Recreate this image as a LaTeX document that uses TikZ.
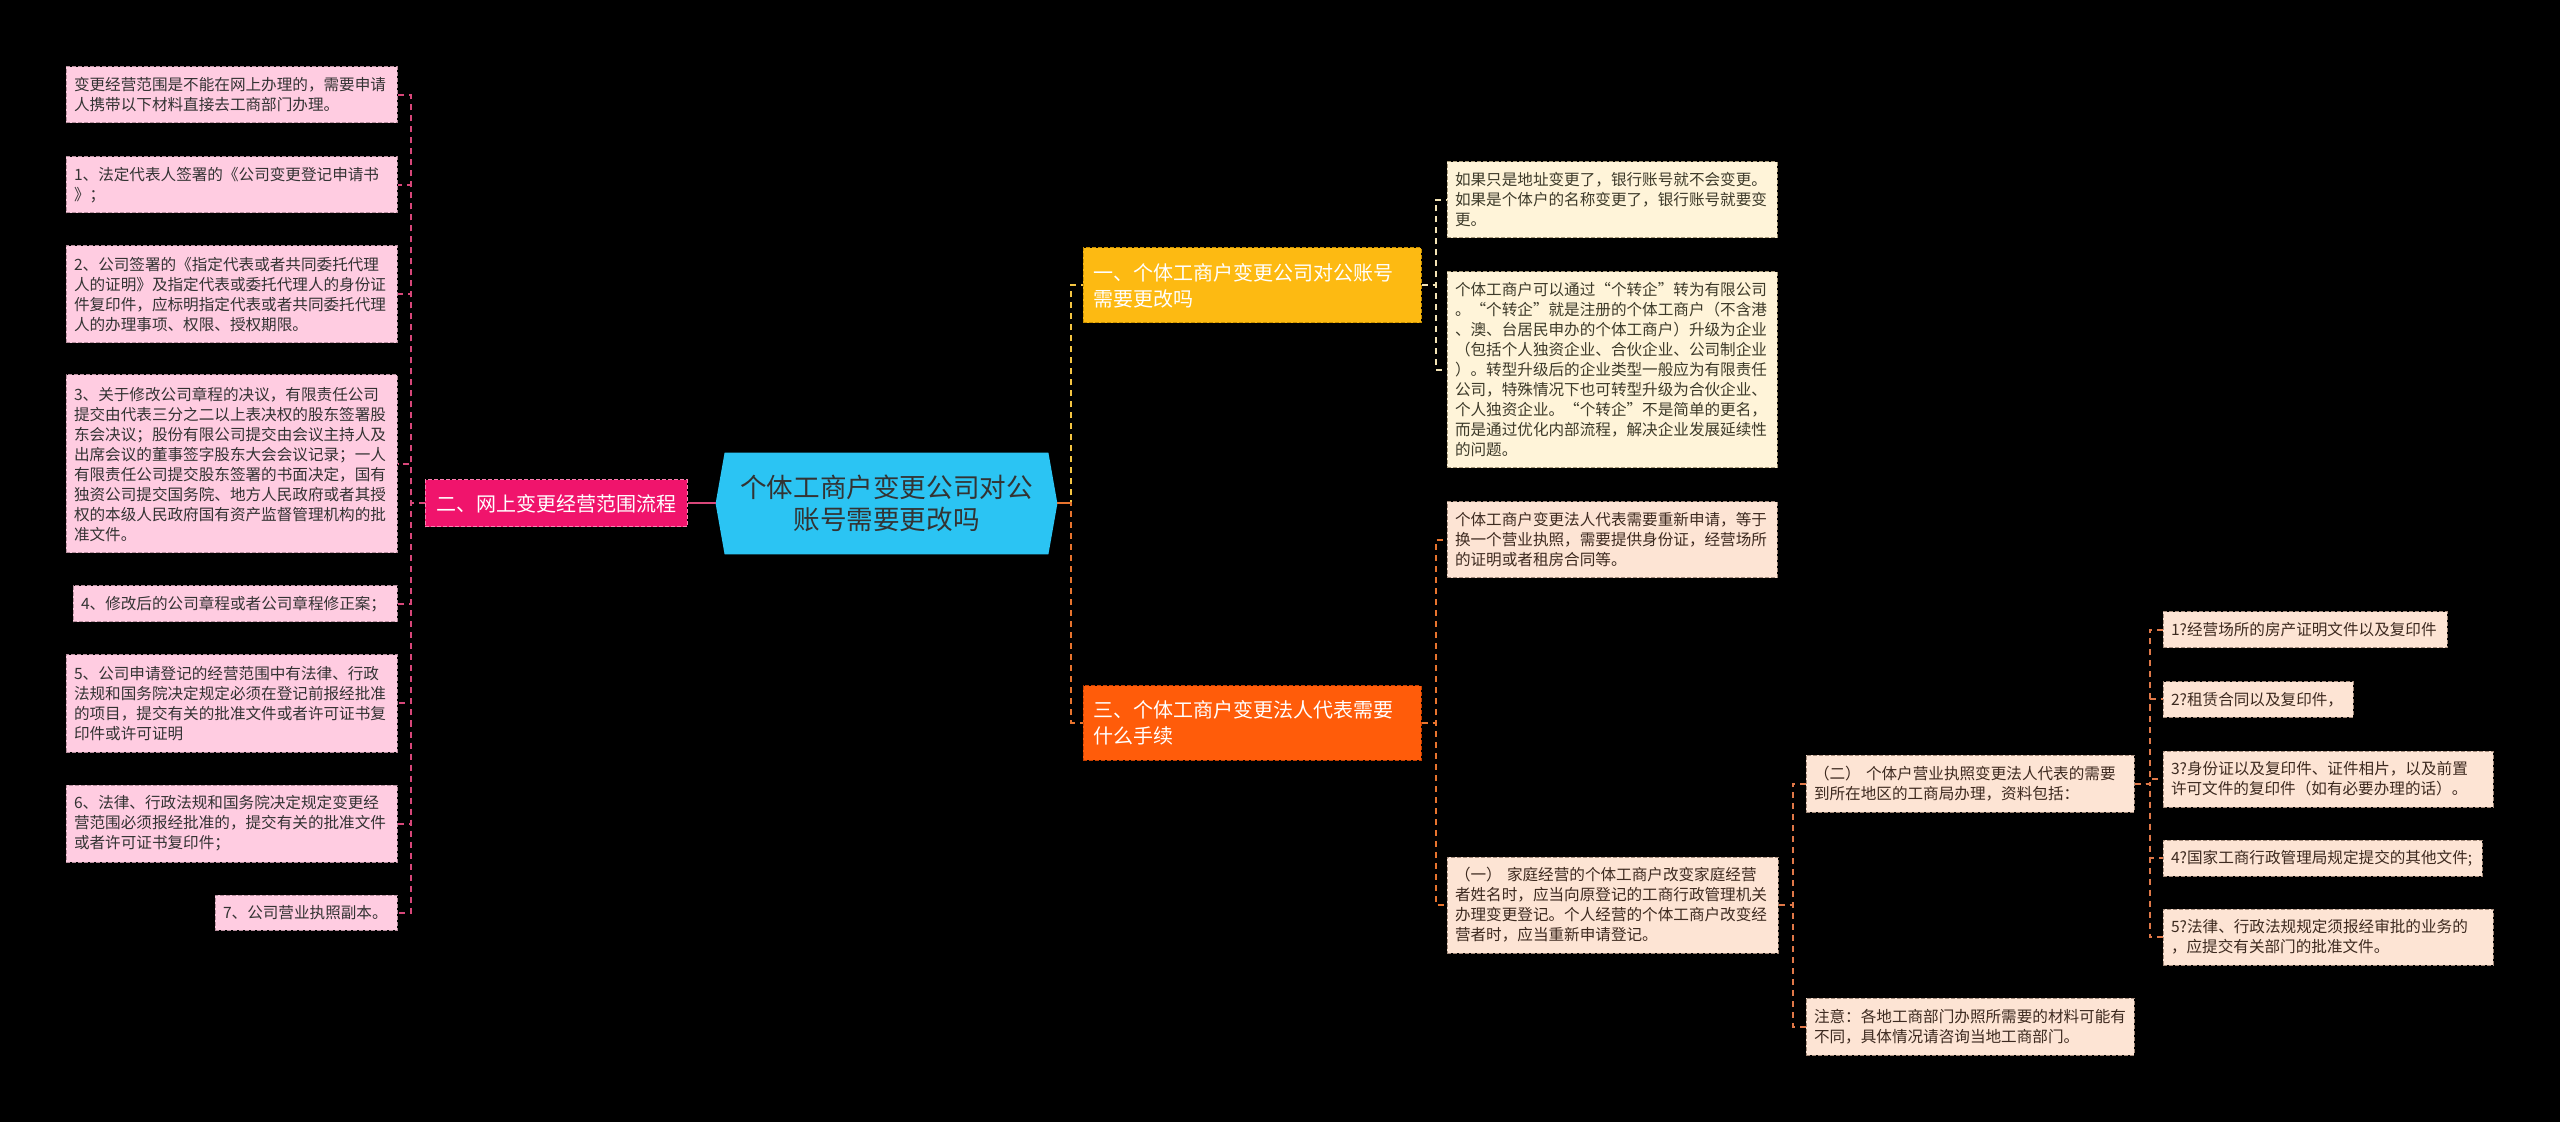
\documentclass[tikz,border=0pt]{standalone}
\usepackage{fontspec}
\setmainfont{Noto Sans CJK SC}
\usetikzlibrary{calc}
\pgfdeclarelayer{bglayer}
\pgfdeclarelayer{backlayer}
\pgfsetlayers{bglayer,backlayer,main}
\definecolor{pinkfill}{HTML}{FFCCE1}
\definecolor{pinkborder}{HTML}{B8909F}
\definecolor{pinkline}{HTML}{D8477A}
\definecolor{twofill}{HTML}{F0146C}
\definecolor{twoborder}{HTML}{FF7FB0}
\definecolor{cyanfill}{HTML}{2BC4F3}
\definecolor{ambfill}{HTML}{FDBA12}
\definecolor{ambborder}{HTML}{C99000}
\definecolor{orgfill}{HTML}{FF5C0A}
\definecolor{orgborder}{HTML}{C84000}
\definecolor{creamfill}{HTML}{FFF4D9}
\definecolor{creamborder}{HTML}{A89A7A}
\definecolor{creamline}{HTML}{F3E3B5}
\definecolor{peachfill}{HTML}{FDE4D4}
\definecolor{peachborder}{HTML}{A58C7C}
\definecolor{yelline}{HTML}{F5C542}
\definecolor{orgline}{HTML}{E8742E}
\definecolor{peachline}{HTML}{E07848}
\definecolor{txtdark}{HTML}{333333}
\definecolor{txtcream}{HTML}{3D3A2A}
\definecolor{txtpeach}{HTML}{3D2A20}
\tikzset{
  wh/.code 2 args={%
    \pgfmathsetlengthmacro\mywd{#1*0.5pt}%
    \pgfmathsetlengthmacro\mytw{#1*0.5pt-8pt}%
    \pgfmathsetlengthmacro\myht{#2*0.5pt}%
    \tikzset{minimum width=\mywd, minimum height=\myht, text width=\mytw}},
  leaf/.style={rectangle, inner xsep=4pt, inner ysep=0pt, align=left,
    line width=0.5pt, dash pattern=on 2pt off 1pt,
    font=\fontsize{7.8}{10}\selectfont},
  pinkbox/.style={leaf, fill=pinkfill, draw=pinkborder, text=txtdark},
  creambox/.style={leaf, fill=creamfill, draw=creamborder, text=txtcream},
  peachbox/.style={leaf, fill=peachfill, draw=peachborder, text=txtpeach},
  branch/.style={rectangle, inner xsep=5pt, inner ysep=0pt, align=left,
    line width=0.5pt, dash pattern=on 2pt off 1pt, text=white,
    font=\fontsize{10}{13}\selectfont},
  conn/.style={line width=1pt, dash pattern=on 3pt off 2.5pt},
}
\begin{document}
\begin{tikzpicture}[x=0.5pt,y=-0.5pt]
\begin{pgfonlayer}{bglayer}
\fill[black] (0,0) rectangle (2560,1122);
\end{pgfonlayer}
\useasboundingbox (0,0) rectangle (2560,1122);

% central node
\node[minimum width=170.5pt, minimum height=50.5pt, inner sep=0pt, align=center,
  text=txtdark, font=\fontsize{13.3}{15.8}\selectfont] (c) at (886.5,503.5)
  {个体工商户变更公司对公\\账号需要更改吗};
\begin{pgfonlayer}{backlayer}
\fill[cyanfill] (c.west) -- ($(c.north west)+(9,0)$) -- ($(c.north east)+(-9,0)$)
  -- (c.east) -- ($(c.south east)+(-9,0)$) -- ($(c.south west)+(9,0)$) -- cycle;
\end{pgfonlayer}

% left branch
\node[branch, fill=twofill, draw=twoborder, align=center, minimum width=131pt,
  minimum height=23.5pt] (two) at (556,503.5) {二、网上变更经营范围流程};

\node[pinkbox, wh={331}{56}] (l0) at (231.5,95)
  {变更经营范围是不能在网上办理的，需要申请\\人携带以下材料直接去工商部门办理。};
\node[pinkbox, wh={331}{56}] (l1) at (231.5,185)
  {1、法定代表人签署的《公司变更登记申请书\\》；};
\node[pinkbox, wh={331}{97}] (l2) at (231.5,294.5)
  {2、公司签署的《指定代表或者共同委托代理\\人的证明》及指定代表或委托代理人的身份证\\件复印件，应标明指定代表或者共同委托代理\\人的办理事项、权限、授权期限。};
\node[pinkbox, wh={331}{178}] (l3) at (231.5,464)
  {3、关于修改公司章程的决议，有限责任公司\\提交由代表三分之二以上表决权的股东签署股\\东会决议；股份有限公司提交由会议主持人及\\出席会议的董事签字股东大会会议记录；一人\\有限责任公司提交股东签署的书面决定，国有\\独资公司提交国务院、地方人民政府或者其授\\权的本级人民政府国有资产监督管理机构的批\\准文件。};
\node[pinkbox, wh={324}{36}] (l4) at (235,604)
  {4、修改后的公司章程或者公司章程修正案；};
\node[pinkbox, wh={331}{97}] (l5) at (231.5,703.5)
  {5、公司申请登记的经营范围中有法律、行政\\法规和国务院决定规定必须在登记前报经批准\\的项目，提交有关的批准文件或者许可证书复\\印件或许可证明};
\node[pinkbox, wh={331}{77}] (l6) at (231.5,823.5)
  {6、法律、行政法规和国务院决定规定变更经\\营范围必须报经批准的，提交有关的批准文件\\或者许可证书复印件；};
\node[pinkbox, wh={182}{35}] (l7) at (306,912.5)
  {7、公司营业执照副本。};

\draw[line width=1pt, pinkline] (c.west) -- (two.east);
\foreach \n in {l0,l1,l2,l3,l4,l5,l6,l7}
  \draw[conn, pinkline] (two.west) -- ++(-14,0) |- (\n.east);

% right branch 一
\node[branch, fill=ambfill, draw=ambborder, wh={334}{75}, inner xsep=5pt] (b1) at (1252,285.5)
  {一、个体工商户变更公司对公账号\\需要更改吗};
\node[creambox, wh={330}{76}] (a1) at (1612,200)
  {如果只是地址变更了，银行账号就不会变更。\\如果是个体户的名称变更了，银行账号就要变\\更。};
\node[creambox, wh={330}{196}] (a2) at (1612,370)
  {个体工商户可以通过“个转企”转为有限公司\\。“个转企”就是注册的个体工商户（不含港\\、澳、台居民申办的个体工商户）升级为企业\\（包括个人独资企业、合伙企业、公司制企业\\）。转型升级后的企业类型一般应为有限责任\\公司，特殊情况下也可转型升级为合伙企业、\\个人独资企业。“个转企”不是简单的更名，\\而是通过优化内部流程，解决企业发展延续性\\的问题。};

% right branch 三
\node[branch, fill=orgfill, draw=orgborder, wh={334}{74}, inner xsep=5pt] (b3) at (1252,723)
  {三、个体工商户变更法人代表需要\\什么手续};
\node[peachbox, wh={330}{76}] (p1) at (1612,540)
  {个体工商户变更法人代表需要重新申请，等于\\换一个营业执照，需要提供身份证，经营场所\\的证明或者租房合同等。};
\node[peachbox, wh={331}{96}] (p2) at (1612.5,905)
  {（一） 家庭经营的个体工商户改变家庭经营\\者姓名时，应当向原登记的工商行政管理机关\\办理变更登记。个人经营的个体工商户改变经\\营者时，应当重新申请登记。};
\node[peachbox, wh={328}{57}] (q1) at (1970,783.5)
  {（二） 个体户营业执照变更法人代表的需要\\到所在地区的工商局办理，资料包括：};
\node[peachbox, wh={328}{57}] (q2) at (1970,1026.5)
  {注意：各地工商部门办照所需要的材料可能有\\不同，具体情况请咨询当地工商部门。};
\node[peachbox, wh={284}{36}] (d1) at (2305,630)
  {1?经营场所的房产证明文件以及复印件};
\node[peachbox, wh={190}{35}] (d2) at (2258,699.5)
  {2?租赁合同以及复印件，};
\node[peachbox, wh={330}{56}] (d3) at (2328,779)
  {3?身份证以及复印件、证件相片，以及前置\\许可文件的复印件（如有必要办理的话）。};
\node[peachbox, wh={319}{36}] (d4) at (2322.5,858)
  {4?国家工商行政管理局规定提交的其他文件;};
\node[peachbox, wh={330}{56}] (d5) at (2328,937)
  {5?法律、行政法规规定须报经审批的业务的\\，应提交有关部门的批准文件。};

% connectors right
\draw[conn, yelline] (c.east) -- ++(14,0) |- (b1.west);
\draw[conn, orgline] (c.east) -- ++(14,0) |- (b3.west);
\draw[line width=1pt, orgline] (c.east) -- ++(14,0);
\foreach \n in {a1,a2}
  \draw[conn, creamline] (b1.east) -- ++(14,0) |- (\n.west);
\foreach \n in {p1,p2}
  \draw[conn, orgline] (b3.east) -- ++(14,0) |- (\n.west);
\foreach \n in {q1,q2}
  \draw[conn, peachline] (p2.east) -- ++(14,0) |- (\n.west);
\foreach \n in {d1,d2,d3,d4,d5}
  \draw[conn, peachline] (q1.east) -- ++(15,0) |- (\n.west);
\end{tikzpicture}
\end{document}
